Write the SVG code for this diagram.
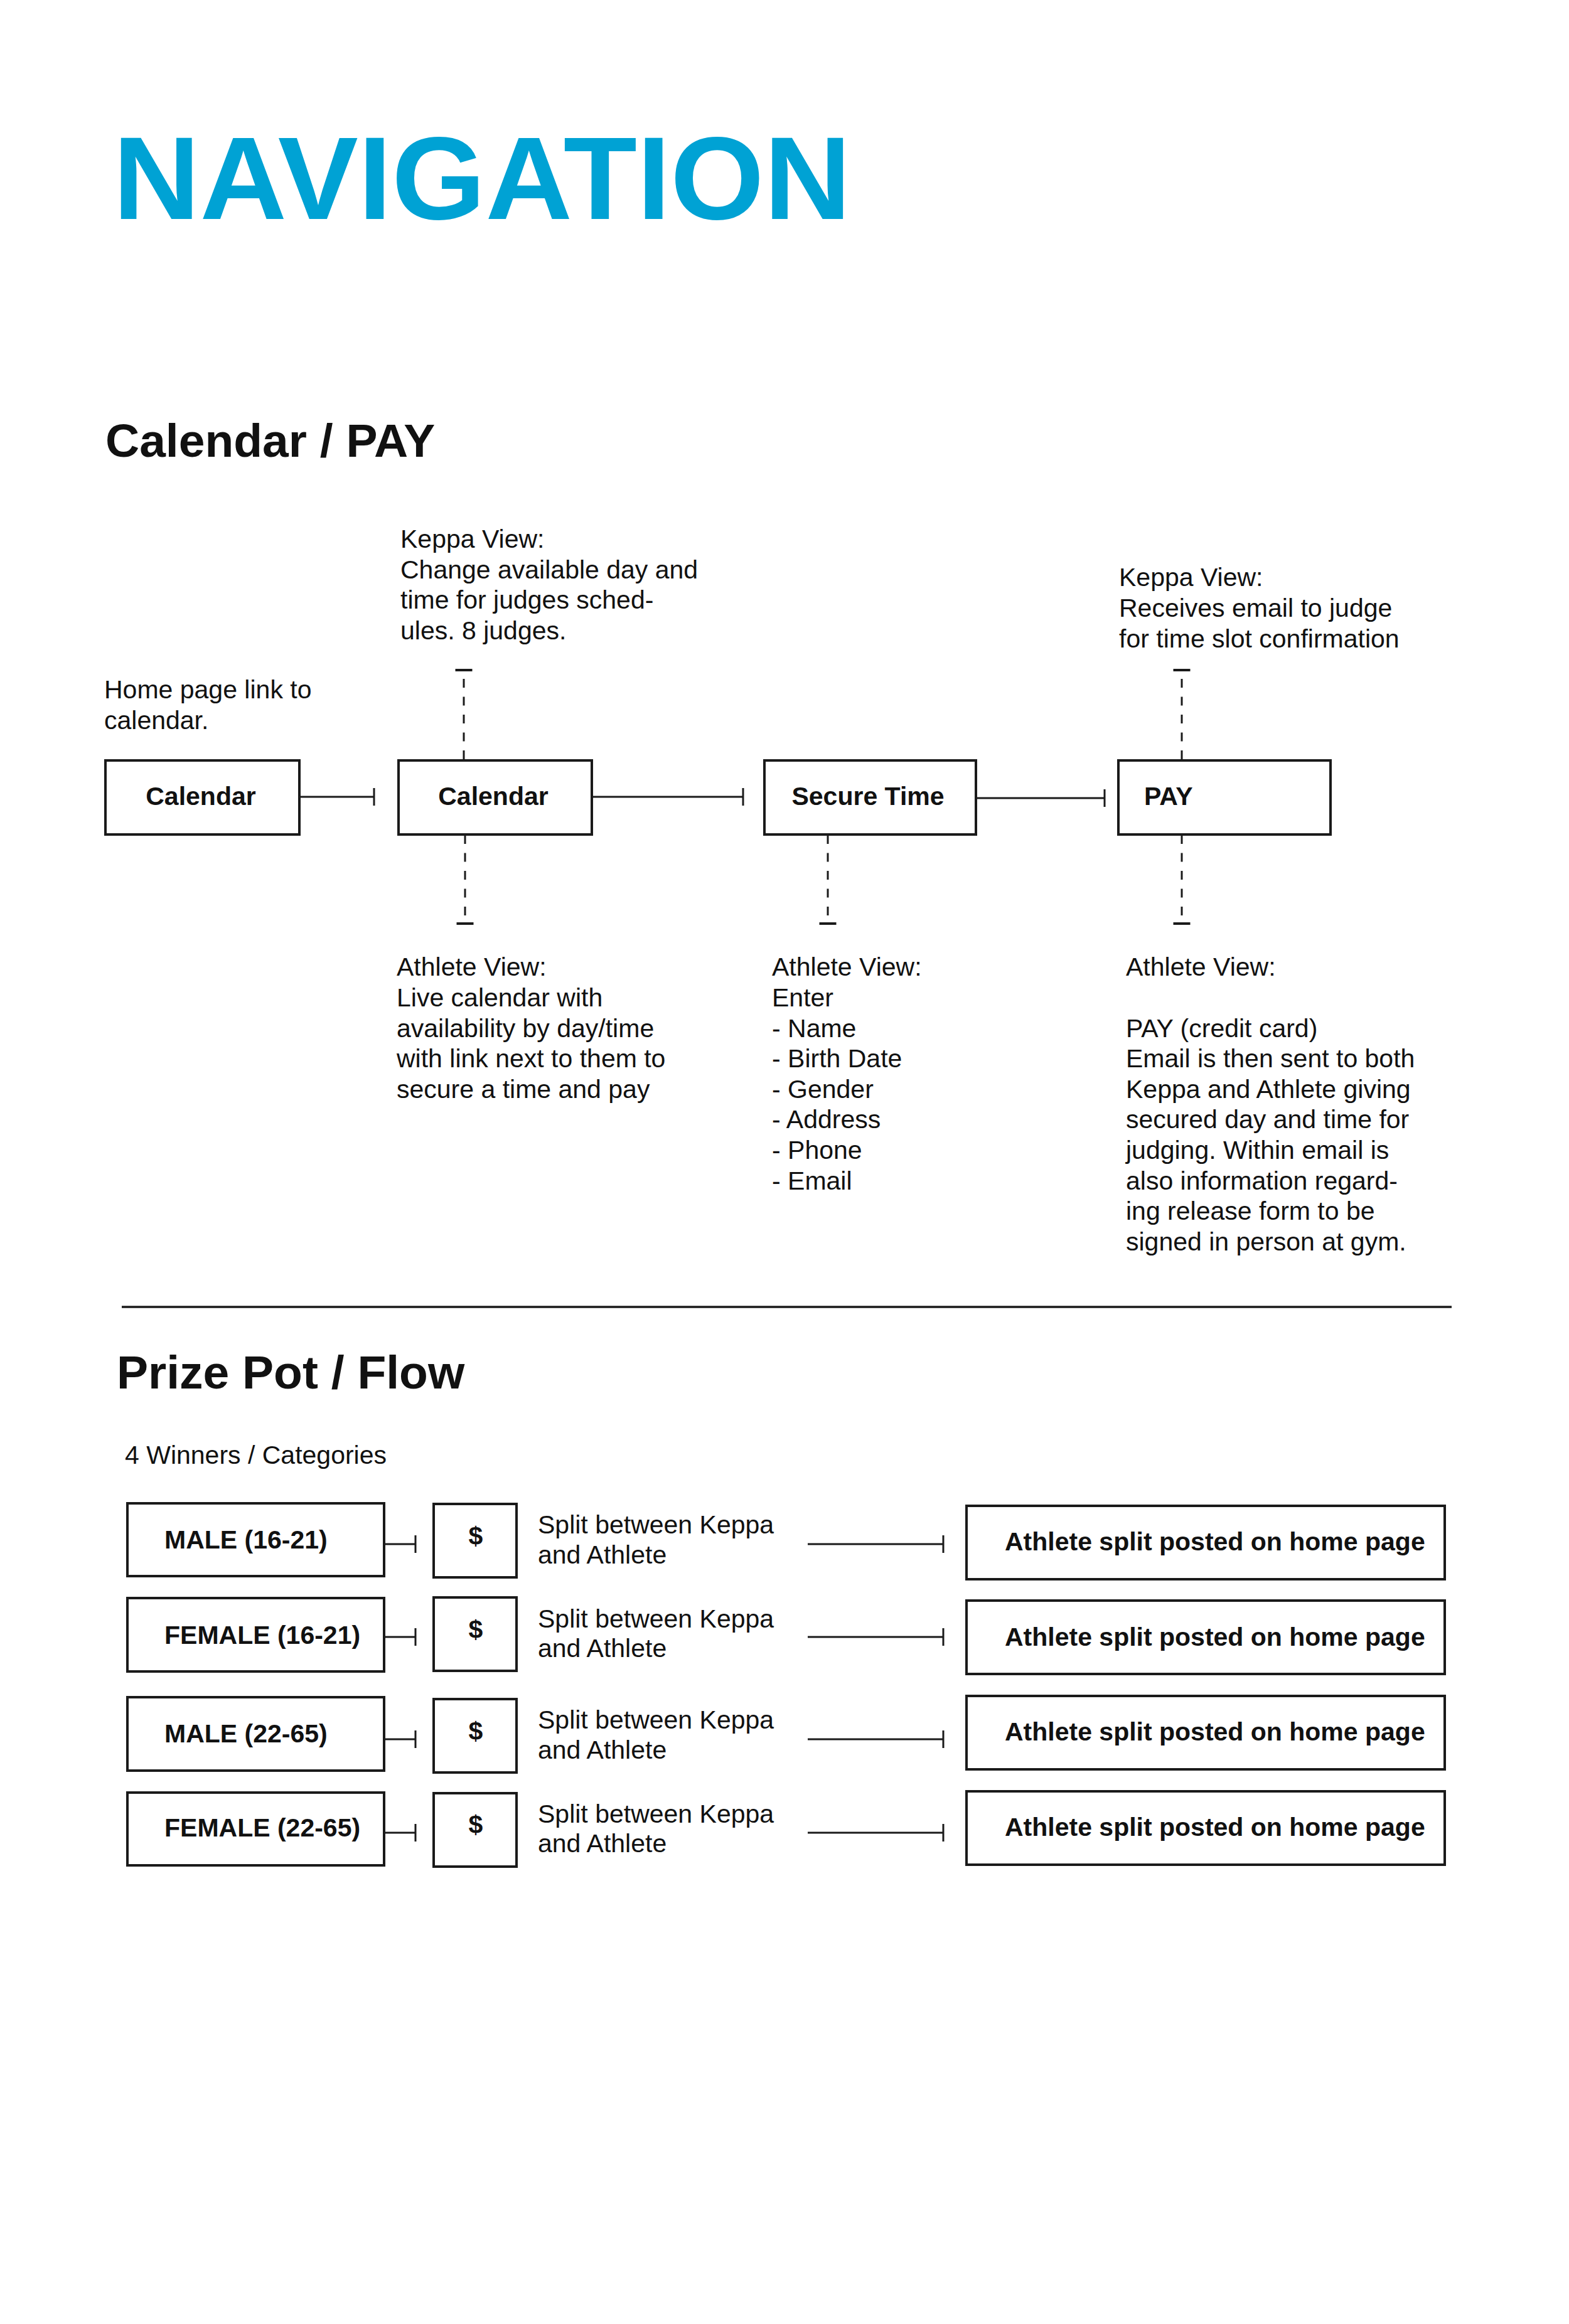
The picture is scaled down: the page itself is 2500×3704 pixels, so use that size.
<svg xmlns="http://www.w3.org/2000/svg" width="2500" height="3704" viewBox="0 0 2500 3704">
<defs>
<style>
.t{font-family:"Liberation Sans",Arial,Helvetica,sans-serif;font-size:41px;fill:#111}
.b{font-family:"Liberation Sans",Arial,Helvetica,sans-serif;font-size:41px;font-weight:bold;fill:#111}
.h{font-family:"Liberation Sans",Arial,Helvetica,sans-serif;font-size:75px;font-weight:bold;fill:#111}
.box{fill:#fff;stroke:#1a1a1a;stroke-width:4}
.con{fill:none;stroke:#1a1a1a;stroke-width:3}
.dash{fill:none;stroke:#1a1a1a;stroke-width:3;stroke-dasharray:14 14.5}
</style>
<marker id="tick" markerUnits="userSpaceOnUse" markerWidth="8" markerHeight="32" viewBox="-4 -16 8 32" refX="0" refY="0" orient="auto" overflow="visible">
<line x1="0" y1="-14" x2="0" y2="14" stroke="#1a1a1a" stroke-width="3"/>
</marker>
<marker id="dtick" markerUnits="userSpaceOnUse" markerWidth="8" markerHeight="32" viewBox="-4 -16 8 32" refX="0" refY="0" orient="auto" overflow="visible">
<line x1="0" y1="-13.5" x2="0" y2="13.5" stroke="#1a1a1a" stroke-width="4"/>
</marker>
</defs>
<rect width="2500" height="3704" fill="#fff"/>

<g id="title">
<text x="180" y="349" font-family="Liberation Sans,Arial,Helvetica,sans-serif" font-size="188" font-weight="bold" fill="#00A2D4" textLength="1176" lengthAdjust="spacingAndGlyphs">NAVIGATION</text>
</g>
<g id="heading-calendar"><text class="h" x="168" y="728">Calendar / PAY</text></g>

<g id="connectors">
<path class="con" d="M477 1270 H596" marker-end="url(#tick)"/>
<path class="con" d="M943 1270 H1184" marker-end="url(#tick)"/>
<path class="con" d="M1555 1272 H1760" marker-end="url(#tick)"/>
<path class="dash" d="M739 1210 V1068" marker-end="url(#dtick)"/>
<path class="dash" d="M741 1331 V1472" marker-end="url(#dtick)"/>
<path class="dash" d="M1319 1331 V1472" marker-end="url(#dtick)"/>
<path class="dash" d="M1883 1210 V1068" marker-end="url(#dtick)"/>
<path class="dash" d="M1883 1331 V1472" marker-end="url(#dtick)"/>
<path class="con" d="M612 2461 H662" marker-end="url(#tick)"/>
<path class="con" d="M612 2609 H662" marker-end="url(#tick)"/>
<path class="con" d="M612 2772 H662" marker-end="url(#tick)"/>
<path class="con" d="M612 2921 H662" marker-end="url(#tick)"/>
<path class="con" d="M1287 2461 H1503" marker-end="url(#tick)"/>
<path class="con" d="M1287 2609 H1503" marker-end="url(#tick)"/>
<path class="con" d="M1287 2772 H1503" marker-end="url(#tick)"/>
<path class="con" d="M1287 2921 H1503" marker-end="url(#tick)"/>
</g>

<g id="note-home"><text class="t"><tspan x="166" y="1113">Home page link to</tspan><tspan x="166" y="1161.6">calendar.</tspan></text></g>
<g id="note-keppa-calendar"><text class="t"><tspan x="638" y="872.7">Keppa View:</tspan><tspan x="638" y="921.5">Change available day and</tspan><tspan x="638" y="970.3">time for judges sched-</tspan><tspan x="638" y="1019">ules. 8 judges.</tspan></text></g>
<g id="note-keppa-pay"><text class="t"><tspan x="1783" y="934">Keppa View:</tspan><tspan x="1783" y="983">Receives email to judge</tspan><tspan x="1783" y="1032">for time slot confirmation</tspan></text></g>

<g id="node-calendar-1"><rect class="box" x="168" y="1212" width="309" height="118"/><text class="b" x="320" y="1283" text-anchor="middle">Calendar</text></g>
<g id="node-calendar-2"><rect class="box" x="635" y="1212" width="308" height="118"/><text class="b" x="786" y="1283" text-anchor="middle">Calendar</text></g>
<g id="node-secure-time"><rect class="box" x="1218" y="1212" width="337" height="118"/><text class="b" x="1383" y="1283" text-anchor="middle">Secure Time</text></g>
<g id="node-pay"><rect class="box" x="1782" y="1212" width="338" height="118"/><text class="b" x="1823" y="1283">PAY</text></g>

<g id="note-athlete-calendar"><text class="t"><tspan x="632" y="1555">Athlete View:</tspan><tspan x="632" y="1604">Live calendar with</tspan><tspan x="632" y="1652.8">availability by day/time</tspan><tspan x="632" y="1701.4">with link next to them to</tspan><tspan x="632" y="1750">secure a time and pay</tspan></text></g>
<g id="note-athlete-secure"><text class="t"><tspan x="1230" y="1555">Athlete View:</tspan><tspan x="1230" y="1604">Enter</tspan><tspan x="1230" y="1652.8">- Name</tspan><tspan x="1230" y="1701.4">- Birth Date</tspan><tspan x="1230" y="1750">- Gender</tspan><tspan x="1230" y="1798.3">- Address</tspan><tspan x="1230" y="1847">- Phone</tspan><tspan x="1230" y="1895.8">- Email</tspan></text></g>
<g id="note-athlete-pay"><text class="t"><tspan x="1794" y="1555">Athlete View:</tspan><tspan x="1794" y="1652.8">PAY (credit card)</tspan><tspan x="1794" y="1701.4">Email is then sent to both</tspan><tspan x="1794" y="1750">Keppa and Athlete giving</tspan><tspan x="1794" y="1798.3">secured day and time for</tspan><tspan x="1794" y="1847">judging. Within email is</tspan><tspan x="1794" y="1895.8">also information regard-</tspan><tspan x="1794" y="1944">ing release form to be</tspan><tspan x="1794" y="1993">signed in person at gym.</tspan></text></g>

<g id="divider"><line x1="194" y1="2083" x2="2313" y2="2083" stroke="#1a1a1a" stroke-width="3.5"/></g>
<g id="heading-prize"><text class="h" x="186" y="2213">Prize Pot / Flow</text></g>
<g id="note-winners"><text class="t" x="199" y="2333">4 Winners / Categories</text></g>

<g id="node-male-16-21"><rect class="box" x="203" y="2396" width="409" height="116"/><text class="b" x="262" y="2468">MALE (16-21)</text></g>
<g id="node-female-16-21"><rect class="box" x="203" y="2547" width="409" height="117"/><text class="b" x="262" y="2620">FEMALE (16-21)</text></g>
<g id="node-male-22-65"><rect class="box" x="203" y="2705" width="409" height="117"/><text class="b" x="262" y="2777">MALE (22-65)</text></g>
<g id="node-female-22-65"><rect class="box" x="203" y="2857" width="409" height="116"/><text class="b" x="262" y="2927">FEMALE (22-65)</text></g>

<g id="node-pot-1"><rect class="box" x="691" y="2397" width="132" height="117"/><text class="b" x="758" y="2462" text-anchor="middle">$</text></g>
<g id="node-pot-2"><rect class="box" x="691" y="2546" width="132" height="117"/><text class="b" x="758" y="2611" text-anchor="middle">$</text></g>
<g id="node-pot-3"><rect class="box" x="691" y="2708" width="132" height="117"/><text class="b" x="758" y="2773" text-anchor="middle">$</text></g>
<g id="node-pot-4"><rect class="box" x="691" y="2858" width="132" height="117"/><text class="b" x="758" y="2922" text-anchor="middle">$</text></g>

<g id="note-split-1"><text class="t"><tspan x="857" y="2444">Split between Keppa</tspan><tspan x="857" y="2492">and Athlete</tspan></text></g>
<g id="note-split-2"><text class="t"><tspan x="857" y="2593.5">Split between Keppa</tspan><tspan x="857" y="2641">and Athlete</tspan></text></g>
<g id="note-split-3"><text class="t"><tspan x="857" y="2755">Split between Keppa</tspan><tspan x="857" y="2803">and Athlete</tspan></text></g>
<g id="note-split-4"><text class="t"><tspan x="857" y="2904.5">Split between Keppa</tspan><tspan x="857" y="2952">and Athlete</tspan></text></g>

<g id="node-posted-1"><rect class="box" x="1540" y="2400" width="762" height="117"/><text class="b" x="1601" y="2471">Athlete split posted on home page</text></g>
<g id="node-posted-2"><rect class="box" x="1540" y="2551" width="762" height="117"/><text class="b" x="1601" y="2622.5">Athlete split posted on home page</text></g>
<g id="node-posted-3"><rect class="box" x="1540" y="2703" width="762" height="117"/><text class="b" x="1601" y="2774">Athlete split posted on home page</text></g>
<g id="node-posted-4"><rect class="box" x="1540" y="2855" width="762" height="117"/><text class="b" x="1601" y="2926">Athlete split posted on home page</text></g>
</svg>
